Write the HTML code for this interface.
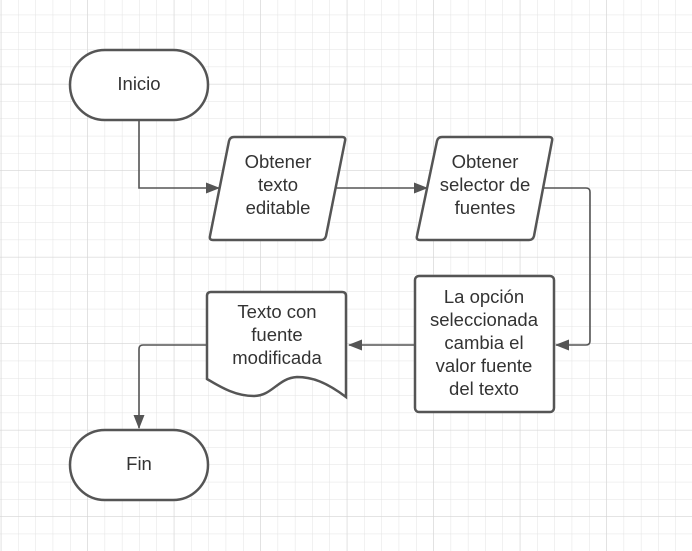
<!DOCTYPE html>
<html><head><meta charset="utf-8"><style>
html,body{margin:0;padding:0;background:#fff;}
svg{display:block;}
text{font-family:"Liberation Sans",sans-serif;font-size:18.5px;fill:#333;text-anchor:middle;}
</style></head><body>
<svg width="692" height="551" viewBox="0 0 692 551" xmlns="http://www.w3.org/2000/svg">
<defs>
<pattern id="g" x="0.8" y="-2.6" width="17.3" height="17.3" patternUnits="userSpaceOnUse">
<path d="M0 0V17.3M0 0H17.3" stroke="#e3e3e3" stroke-width="1" fill="none"/>
</pattern>
<pattern id="G" x="0.8" y="-2.6" width="86.5" height="86.5" patternUnits="userSpaceOnUse">
<path d="M0 0V86.5M0 0H86.5" stroke="#d3d3d3" stroke-width="1" fill="none"/>
</pattern>
<marker id="a" markerWidth="14" markerHeight="11" refX="13" refY="5.5" orient="auto" markerUnits="userSpaceOnUse">
<path d="M0 0L14 5.5L0 11Z" fill="#555"/>
</marker>
</defs>
<rect width="692" height="551" fill="url(#g)"/>
<rect width="692" height="551" fill="url(#G)"/>
<g fill="none" stroke="#555" stroke-width="1.6">
<path d="M139 121V188H219" marker-end="url(#a)"/>
<path d="M335 188H427" marker-end="url(#a)"/>
<path d="M543 188H586Q590 188 590 192V341Q590 345 586 345H556" marker-end="url(#a)"/>
<path d="M415 345H349" marker-end="url(#a)"/>
<path d="M207 345H143Q139 345 139 349V428" marker-end="url(#a)"/>
</g>
<g fill="#fff" stroke="#555" stroke-width="2.5">
<rect x="70" y="50" width="138" height="70" rx="35"/>
<path d="M234 137H342Q346 137 345 141L326 236Q325 240 321 240H213Q209 240 210 236L229 141Q230 137 234 137Z"/>
<path d="M442 137H549Q553 137 552 141L534 236Q533 240 529 240H420Q416 240 417 236L437 141Q438 137 442 137Z"/>
<rect x="415" y="276" width="139" height="136" rx="4"/>
<path d="M211 292H342Q346 292 346 296V397C326 382 312 377 297 377C278 378 272 396 254 396C236 396 222 388 207 379V296Q207 292 211 292Z"/>
<rect x="70" y="430" width="138" height="70" rx="35"/>
</g>
<text x="139" y="90">Inicio</text>
<text x="139" y="470">Fin</text>
<text x="278" y="168">Obtener</text>
<text x="278" y="191">texto</text>
<text x="278" y="214">editable</text>
<text x="485" y="168">Obtener</text>
<text x="485" y="191">selector de</text>
<text x="485" y="214">fuentes</text>
<text x="484" y="303">La opción</text>
<text x="484" y="326">seleccionada</text>
<text x="484" y="349">cambia el</text>
<text x="484" y="372">valor fuente</text>
<text x="484" y="395">del texto</text>
<text x="277" y="318">Texto con</text>
<text x="277" y="341">fuente</text>
<text x="277" y="364">modificada</text>
</svg>
</body></html>
